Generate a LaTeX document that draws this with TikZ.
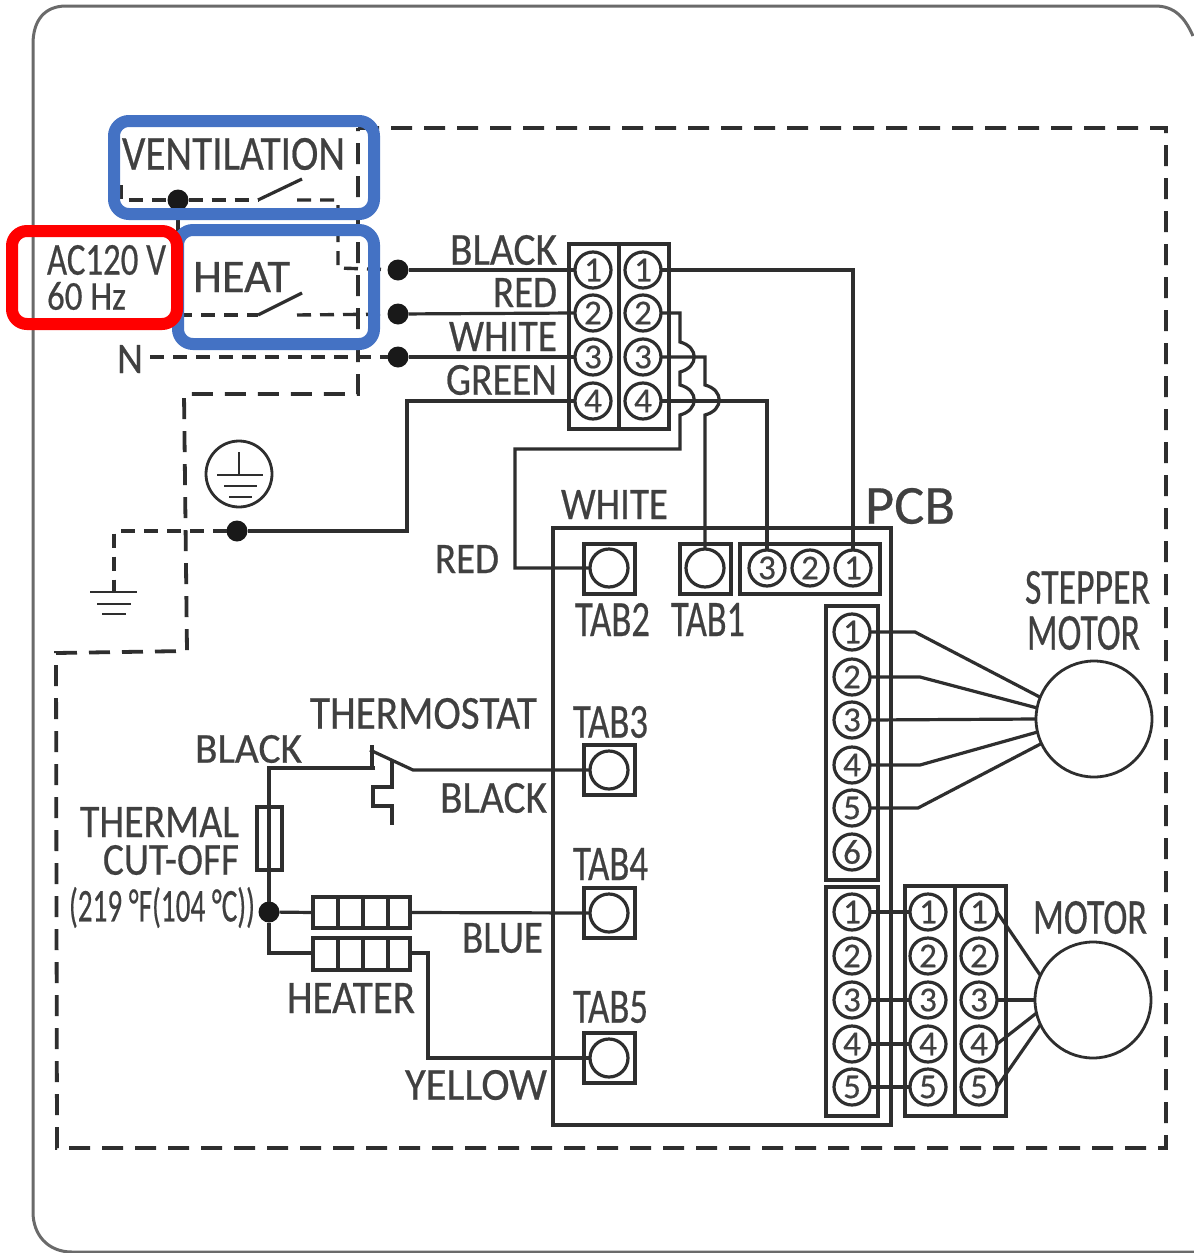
\documentclass[tikz,border=0pt]{standalone}
\usepackage{fontspec}
\usepackage{graphicx}
\setmainfont{Carlito}[FakeBold=0.5]
\definecolor{inkc}{HTML}{2E2E2E}
\definecolor{textc}{HTML}{404040}
\definecolor{framec}{HTML}{6A6A6A}
\definecolor{hlblue}{HTML}{4472C4}
\definecolor{hlred}{HTML}{FF0000}
\tikzset{
  wire/.style={draw=inkc,line width=3.2pt,line join=miter},
  thin wire/.style={draw=inkc,line width=2.8pt},
  bigdash/.style={draw=inkc,line width=3.8pt,dash pattern=on 21pt off 12pt},
  smalldash/.style={draw=inkc,line width=3.4pt,dash pattern=on 14pt off 9pt},
  lab/.style={inner sep=0pt,outer sep=0pt,text=textc},
  blockbox/.style={draw=inkc,line width=3.2pt,inner sep=0pt,outer sep=0pt},
  term/.style={circle,draw=inkc,line width=3.2pt,minimum size=36pt,inner sep=0pt,outer sep=0pt,text=textc,font=\fontsize{35}{35}\selectfont},
  tabc/.style={circle,draw=inkc,line width=3.2pt,minimum size=38pt,inner sep=0pt,outer sep=0pt},
  dotn/.style={circle,fill=black!90,minimum size=21pt,inner sep=0pt,outer sep=0pt},
  motorc/.style={circle,draw=inkc,line width=2.8pt,minimum size=116pt,inner sep=0pt,outer sep=0pt},
  hlbox/.style={line width=12pt,rounded corners=15pt}
}
% name, x1,y1,x2,y2, text : label stretched to its box
\newcommand{\lbl}[6]{%
  \pgfmathsetlengthmacro\lblw{#4-#2}\pgfmathsetlengthmacro\lblh{#5-#3}%
  \node[lab] (#1) at ({(#2+#4)/2},{(#3+#5)/2}) {\resizebox*{\lblw}{\lblh}{#6}};}
% name, x1,y1,x2,y2 : plain box
\newcommand{\bx}[5]{%
  \node[blockbox,minimum width={(#4-#2)*1pt},minimum height={(#5-#3)*1pt}] (#1) at ({(#2+#4)/2},{(#3+#5)/2}) {};}
\begin{document}
\begin{tikzpicture}[x=1pt,y=-1pt]
\useasboundingbox[fill=white] (0,0) rectangle (1194,1253);
% outer casing
\draw[draw=framec,line width=3pt] (1193,36) .. controls (1185,18) and (1175,6) .. (1155,6) -- (66,6) .. controls (45,6) and (33,20) .. (33,44) -- (33,1212) .. controls (33,1235) and (48,1252) .. (72,1252) -- (1194,1252);
% cabinet dashed outline
\draw[bigdash] (358,128) -- (1166,128) -- (1166,1148) -- (57,1148) -- (56,653) -- (187,651) -- (184,394) -- (358,394) -- cycle;

% terminal blocks
\bx{tbl}{569}{244}{619}{429}
\bx{tbr}{619}{244}{669}{429}
\foreach \n/\y in {1/270,2/313,3/357,4/401}{
  \node[term] (l\n) at (593,\y) {\n};
  \node[term] (r\n) at (643,\y) {\n};
}
% PCB
\bx{pcb}{553}{528}{891}{1125}
\bx{tab2b}{584}{544}{635}{594}
\bx{tab1b}{680}{544}{731}{594}
\bx{cn3}{740}{544}{880}{594}
\bx{tab3b}{584}{745}{635}{795}
\bx{tab4b}{584}{888}{635}{938}
\bx{tab5b}{584}{1033}{635}{1083}
\node[tabc] (tab2c) at (609,568) {};
\node[tabc] (tab1c) at (705,568) {};
\node[tabc] (tab3c) at (609,770) {};
\node[tabc] (tab4c) at (609,913) {};
\node[tabc] (tab5c) at (609,1058) {};
\foreach \n/\x in {3/767,2/810,1/853}{\node[term] (c\n) at (\x,568) {\n};}
\bx{stepb}{826}{606}{878}{880}
\foreach \n/\y in {1/632,2/677,3/720,4/765,5/808,6/852}{\node[term] (s\n) at (852,\y) {\n};}
\bx{motb}{826}{887}{878}{1116}
\bx{motr1}{905}{886}{955}{1116}
\bx{motr2}{955}{886}{1006}{1116}
\foreach \n/\y in {1/912,2/956,3/1000,4/1044,5/1087}{
  \node[term] (m\n) at (852,\y) {\n};
  \node[term] (n\n) at (928,\y) {\n};
  \node[term] (p\n) at (979,\y) {\n};
}
\node[motorc] (stepper) at (1094,719) {};
\node[motorc] (motor) at (1093,1000) {};

% dots
\node[dotn] (d1) at (398,270) {};
\node[dotn] (d2) at (398,314) {};
\node[dotn] (d3) at (398,357) {};
\node[dotn] (dv) at (178,200) {};
\node[dotn] (dg) at (237,531) {};
\node[dotn] (dh) at (269,912) {};

% mains wiring
\draw[wire] (d1) -- (l1.west);
\draw[wire] (d2) -- (l2.west);
\draw[wire] (d3) -- (l3.west);
\draw[wire] (dg) -- (407,531) -- (407,401) -- (l4.west);
\draw[wire] (r1.east) -| (c1.north);
\draw[wire] (r2.east) -- (680,313) -- (680,342) .. controls (699,347) and (699,367) .. (680,372) -- (680,385) .. controls (699,390) and (699,410) .. (680,415) -- (680,449) -- (515,449) |- (tab2c.west);
\draw[wire] (r3.east) -- (705,357) -- (705,385) .. controls (724,390) and (724,410) .. (705,415) -- (tab1c.north);
\draw[wire] (r4.east) -| (c3.north);

% dashed control wiring
\coordinate (vs) at (121,185);
\coordinate (n0) at (150,357);
\coordinate (hs) at (178,315);
\draw[smalldash] (vs) -- (121,200) -- (dv) -- (258,200);
\draw[wire] (258,200) -- (302,179);
\draw[smalldash] (297,200) -- (338,200) -- (338,268) -- (d1);
\draw[wire] (dv) -- (hs);
\draw[smalldash] (hs) -- (258,315);
\draw[wire] (258,315) -- (302,293);
\draw[smalldash] (297,315) -- (d2);
\draw[smalldash] (n0) -- (d3);

% earth
\node[circle,draw=inkc,line width=2.8pt,minimum size=66pt,inner sep=0pt] (earth) at (239,474) {};
\draw[thin wire] (239,452) -- (239,475) (217,475) -- (263,475) (224,486) -- (257,486) (229,497) -- (252,497);
\coordinate (gc) at (114,592);
\draw[smalldash] (dg) -- (114,531) -- (gc);
\draw[thin wire] (90,592) -- (137,592) (97,604) -- (131,604) (102,614) -- (126,614);

% motors wiring
\draw[wire] (s1.east) -- (915,632) -- (stepper.158);
\draw[wire] (s2.east) -- (920,677) -- (stepper.169);
\draw[wire] (s3.east) -- (stepper.west);
\draw[wire] (s4.east) -- (920,765) -- (stepper.193);
\draw[wire] (s5.east) -- (918,808) -- (stepper.205);
\foreach \n in {1,3,4,5}{\draw[wire] (m\n.east) -- (n\n.west);}
\draw[wire] (p1.east) -- (motor.155);
\draw[wire] (p3.east) -- (motor.west);
\draw[wire] (p4.east) -- (motor.193);
\draw[wire] (p5.east) -- (motor.205);

% heater circuit
\bx{fuse}{257}{807}{282}{870}
\bx{h1}{313}{897}{410}{928}
\bx{h2}{313}{938}{410}{970}
\foreach \x in {338,363,388}{\draw[wire] (\x,897) -- (\x,928) (\x,938) -- (\x,970);}
\coordinate (ts) at (375,768);
\draw[wire] (ts) -- (269,768) -- (dh);
\draw[wire] (dh) -- (h1.west);
\draw[wire] (h1.east) -- (tab4c.west);
\draw[wire] (dh) |- (313,953);
\draw[wire] (410,953) -- (428,953) |- (tab5c.west);
\draw[wire] (370,750) -- (413,770) -- (tab3c.west);
\draw[wire] (372,745) -- (372,768);
\draw[wire] (392,760) -- (392,787) -- (373,787) -- (373,806) -- (392,806) -- (392,825);

% highlight boxes
\draw[hlbox,draw=hlblue] (114,121) rectangle (374,214);
\draw[hlbox,draw=hlblue] (178,230) rectangle (374,344);
\draw[hlbox,draw=hlred] (12,231) rectangle (177,324);

% labels
\lbl{tv}{122}{138}{345}{170}{VENTILATION}
\lbl{tac}{47}{245}{166}{275}{AC120 V}
\lbl{thz}{47}{282}{126}{310}{60 Hz}
\lbl{th}{193}{262}{290}{292}{HEAT}
\lbl{tn}{117}{345}{143}{373}{N}
\lbl{tb1}{450}{235}{557}{265}{BLACK}
\lbl{tr1}{493}{278}{557}{307}{RED}
\lbl{tw1}{449}{322}{557}{351}{WHITE}
\lbl{tg1}{446}{365}{557}{395}{GREEN}
\lbl{tw2}{561}{490}{668}{519}{WHITE}
\lbl{tr2}{435}{545}{499}{573}{RED}
\lbl{tpcb}{865}{488}{955}{524}{PCB}
\lbl{tt2}{575}{603}{650}{636}{TAB2}
\lbl{tt1}{671}{603}{745}{636}{TAB1}
\lbl{tt3}{573}{706}{648}{738}{TAB3}
\lbl{tt4}{573}{848}{648}{880}{TAB4}
\lbl{tt5}{573}{991}{648}{1023}{TAB5}
\lbl{tsm}{1025}{571}{1150}{604}{STEPPER}
\lbl{tsm2}{1027}{616}{1140}{650}{MOTOR}
\lbl{tm}{1033}{901}{1147}{934}{MOTOR}
\lbl{tth}{310}{698}{537}{729}{THERMOSTAT}
\lbl{tb2}{195}{735}{302}{763}{BLACK}
\lbl{tb3}{440}{783}{547}{813}{BLACK}
\lbl{ttm}{80}{807}{239}{837}{THERMAL}
\lbl{tco}{103}{845}{239}{875}{CUT-OFF}
\lbl{tdeg}{69}{887}{255}{928}{(219 °F(104 °C))}
\lbl{tbl2}{462}{923}{543}{953}{BLUE}
\lbl{tht}{287}{983}{415}{1013}{HEATER}
\lbl{ty}{405}{1070}{547}{1100}{YELLOW}
\end{tikzpicture}
\end{document}
